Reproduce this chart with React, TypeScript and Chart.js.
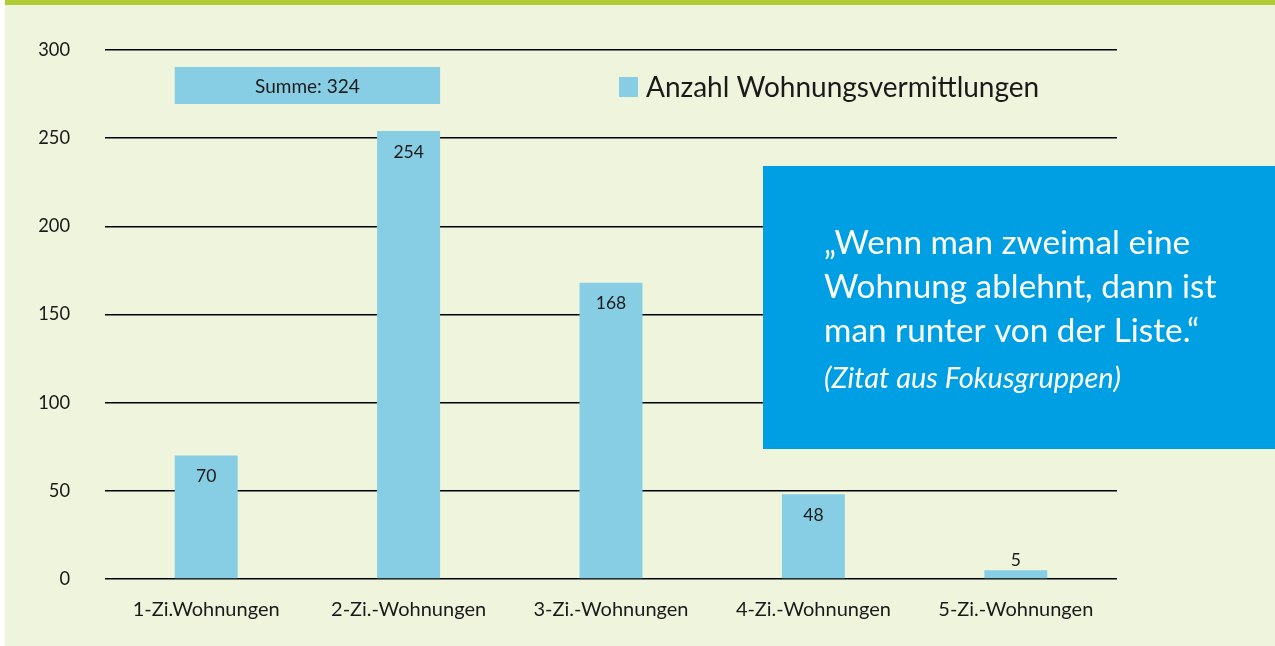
import React, { useEffect, useRef } from "react";
import { Chart, registerables } from "chart.js";

Chart.register(...registerables);

const categories = ["1-Zi.Wohnungen", "2-Zi.-Wohnungen", "3-Zi.-Wohnungen", "4-Zi.-Wohnungen", "5-Zi.-Wohnungen"];
const values = [70, 254, 168, 48, 5];
const seriesLabel = "Anzahl Wohnungsvermittlungen";
const sumLabel = "Summe: 324";
const quoteLines = ["„Wenn man zweimal eine", "Wohnung ablehnt, dann ist", "man runter von der Liste.“"];
const quoteSource = "(Zitat aus Fokusgruppen)";

const FONT = "Lato";
const BAR = "#87CEE4";
const TEXT = "#1a1a1a";

const decorPlugin = {
  id: "decor",
  beforeDraw(chart: any) {
    const ctx = chart.ctx;
    ctx.save();
    ctx.fillStyle = "#ffffff";
    ctx.fillRect(0, 0, chart.width, chart.height);
    ctx.fillStyle = "#EFF4DC";
    ctx.fillRect(5, 5, chart.width - 5, chart.height - 5);
    ctx.fillStyle = "#B0CB35";
    ctx.fillRect(5, 0, chart.width - 5, 5);
    ctx.restore();
  },
  afterDatasetsDraw(chart: any) {
    const ctx = chart.ctx;
    const meta = chart.getDatasetMeta(0);
    ctx.save();
    // value labels
    ctx.fillStyle = TEXT;
    ctx.font = `17.5px ${FONT}`;
    ctx.textAlign = "center";
    ctx.textBaseline = "middle";
    meta.data.forEach((bar: any, i: number) => {
      const v = values[i];
      const y = v < 15 ? bar.y - 10 : bar.y + 21;
      ctx.fillText(String(v), bar.x, y);
    });
    // sum box
    const x0 = meta.data[0].x - meta.data[0].width / 2;
    const x1 = meta.data[1].x + meta.data[1].width / 2;
    ctx.fillStyle = BAR;
    ctx.fillRect(x0, 67, x1 - x0, 37);
    ctx.fillStyle = TEXT;
    ctx.font = `19px ${FONT}`;
    ctx.fillText(sumLabel, (x0 + x1) / 2, 87);
    // legend
    ctx.fillStyle = BAR;
    ctx.fillRect(619, 77, 19, 20);
    ctx.fillStyle = TEXT;
    ctx.textAlign = "left";
    ctx.font = `28px ${FONT}`;
    ctx.fillText(seriesLabel, 646, 88);
    // quote box
    ctx.fillStyle = "#009FE3";
    ctx.fillRect(763, 166, chart.width - 763, 283);
    ctx.fillStyle = "#ffffff";
    ctx.font = `33.3px ${FONT}`;
    quoteLines.forEach((l, i) => ctx.fillText(l, 824, 243 + i * 44));
    ctx.font = `italic 29px ${FONT}`;
    ctx.fillText(quoteSource, 824, 379);
    ctx.restore();
  },
};

export default function App() {
  const ref = useRef<HTMLCanvasElement>(null);
  useEffect(() => {
    const chart = new Chart(ref.current!, {
      type: "bar",
      data: {
        labels: categories,
        datasets: [
          {
            label: seriesLabel,
            data: values,
            backgroundColor: BAR,
            barPercentage: 0.311,
            categoryPercentage: 1,
          },
        ],
      },
      options: {
        animation: false,
        responsive: false,
        devicePixelRatio: 1,
        layout: { padding: { left: 0, right: 158, top: 50, bottom: 0 } },
        plugins: { legend: { display: false }, tooltip: { enabled: false } },
        scales: {
          x: {
            grid: { display: false },
            border: { display: false },
            ticks: { color: TEXT, font: { family: FONT, size: 20 }, padding: 11, maxRotation: 0 },
            afterFit: (s: any) => {
              s.height = 67;
            },
          },
          y: {
            min: 0,
            max: 300,
            grid: { color: "#000000", lineWidth: 1.5, drawTicks: false },
            border: { display: false },
            ticks: { stepSize: 50, color: TEXT, font: { family: FONT, size: 18.3 }, padding: 35 },
            afterFit: (s: any) => {
              s.width = 105;
            },
          },
        },
      },
      plugins: [decorPlugin],
    });
    return () => chart.destroy();
  }, []);
  return (
    <div style={{ position: "fixed", left: 0, top: 0 }}>
      <canvas ref={ref} width={1275} height={646} style={{ display: "block" }} />
    </div>
  );
}
